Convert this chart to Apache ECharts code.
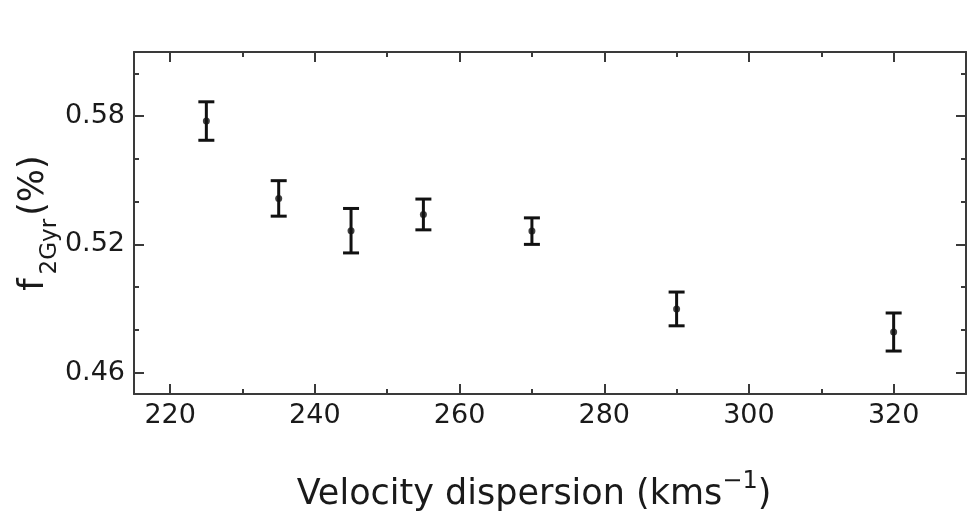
<!DOCTYPE html>
<html>
<head>
<meta charset="utf-8">
<script src="https://cdn.jsdelivr.net/npm/echarts@6/dist/echarts.min.js"></script>
<style>
html,body{margin:0;padding:0;background:#fff;}
#c{width:968px;height:512px;}
</style>
</head>
<body>
<div id="c"></div>
<script>
// Data
var velocity = [225, 235, 245, 255, 270, 290, 320];
var fraction = [0.5777, 0.5415, 0.5264, 0.5340, 0.5262, 0.4898, 0.4790];
var fracErr  = [0.0090, 0.0083, 0.0104, 0.0072, 0.0062, 0.0079, 0.0089];

var xMajorTicks = [220, 240, 260, 280, 300, 320];
var xMinorTicks = [230, 250, 270, 290, 310, 330];
var yMajorTicks = [0.46, 0.52, 0.58];
var yMinorTicks = [0.48, 0.50, 0.54, 0.56, 0.60];

var FONT = 'DejaVu Sans';
var AX = '#3a3a3a';

var points = velocity.map(function (v, i) { return [v, fraction[i]]; });
var bars = velocity.map(function (v, i) { return [v, fraction[i], fracErr[i]]; });

function xAxisDef(pos, ticks, len, showLabel, showLine) {
  return {
    type: 'value', position: pos, min: 215, max: 330,
    axisLine: { show: showLine, onZero: false, lineStyle: { color: AX, width: 2 } },
    axisTick: { show: true, inside: true, length: len, customValues: ticks, lineStyle: { color: AX, width: 2 } },
    axisLabel: { show: showLabel, customValues: ticks, margin: 8, color: '#1a1a1a', fontFamily: FONT, fontSize: 27 },
    splitLine: { show: false }
  };
}
function yAxisDef(pos, ticks, len, showLabel, showLine) {
  return {
    type: 'value', position: pos, min: 0.45, max: 0.61,
    axisLine: { show: showLine, onZero: false, lineStyle: { color: AX, width: 2 } },
    axisTick: { show: true, inside: true, length: len, customValues: ticks, lineStyle: { color: AX, width: 2 } },
    axisLabel: { show: showLabel, customValues: ticks, margin: 9, color: '#1a1a1a', fontFamily: FONT, fontSize: 27,
      formatter: function (v) { return v.toFixed(2); } },
    splitLine: { show: false }
  };
}

var xa = [
  xAxisDef('bottom', xMajorTicks, 10, true, true),
  xAxisDef('bottom', xMinorTicks, 5, false, false),
  xAxisDef('top', xMajorTicks, 10, false, true),
  xAxisDef('top', xMinorTicks, 5, false, false)
];
xa[0].name = '{a|Velocity dispersion (kms}{sup|−1}{a|)}';
xa[0].nameLocation = 'middle';
xa[0].nameGap = 76;
xa[0].nameMoveOverlap = false;
xa[0].nameTextStyle = {
  padding: [0, 32, 0, 0],
  rich: {
    a: { fontFamily: FONT, fontSize: 35, color: '#1a1a1a', verticalAlign: 'bottom', lineHeight: 42 },
    sup: { fontFamily: FONT, fontSize: 24, color: '#1a1a1a', verticalAlign: 'top', lineHeight: 42 }
  }
};

var ya = [
  yAxisDef('left', yMajorTicks, 10, true, true),
  yAxisDef('left', yMinorTicks, 5, false, false),
  yAxisDef('right', yMajorTicks, 10, false, true),
  yAxisDef('right', yMinorTicks, 5, false, false)
];
ya[0].name = '{f|f}{sub|2Gyr}{p|(%)}';
ya[0].nameLocation = 'middle';
ya[0].nameGap = 72;
ya[0].nameMoveOverlap = false;
ya[0].nameTextStyle = {
  rich: {
    f: { fontFamily: FONT, fontSize: 35, color: '#1a1a1a', verticalAlign: 'top', lineHeight: 46, padding: [0, 4, 0, 0] },
    sub: { fontFamily: FONT, fontSize: 23, color: '#1a1a1a', verticalAlign: 'bottom', lineHeight: 46, padding: [0, 3, 0, 0] },
    p: { fontFamily: FONT, fontSize: 35, color: '#1a1a1a', verticalAlign: 'top', lineHeight: 46 }
  }
};

var chart = echarts.init(document.getElementById('c'), null, { renderer: 'canvas' });
chart.setOption({
  animation: false,
  backgroundColor: '#fff',
  grid: { left: 134, right: 2, top: 52, bottom: 118, containLabel: false, outerBoundsMode: 'none' },
  xAxis: xa,
  yAxis: ya,
  series: [
    {
      type: 'custom',
      xAxisIndex: 0, yAxisIndex: 0,
      data: bars,
      renderItem: function (params, api) {
        var x = api.value(0), y = api.value(1), e = api.value(2);
        var top = api.coord([x, y + e]);
        var bot = api.coord([x, y - e]);
        var hw = 8;
        var st = { stroke: '#111', lineWidth: 3 };
        return {
          type: 'group',
          children: [
            { type: 'line', shape: { x1: top[0], y1: top[1], x2: bot[0], y2: bot[1] }, style: st },
            { type: 'line', shape: { x1: top[0] - hw, y1: top[1], x2: top[0] + hw, y2: top[1] }, style: st },
            { type: 'line', shape: { x1: bot[0] - hw, y1: bot[1], x2: bot[0] + hw, y2: bot[1] }, style: st }
          ]
        };
      },
      z: 3
    },
    {
      type: 'scatter',
      xAxisIndex: 0, yAxisIndex: 0,
      data: points,
      symbol: 'circle',
      symbolSize: 7,
      itemStyle: { color: '#111' },
      z: 4
    }
  ]
});
</script>
</body>
</html>
